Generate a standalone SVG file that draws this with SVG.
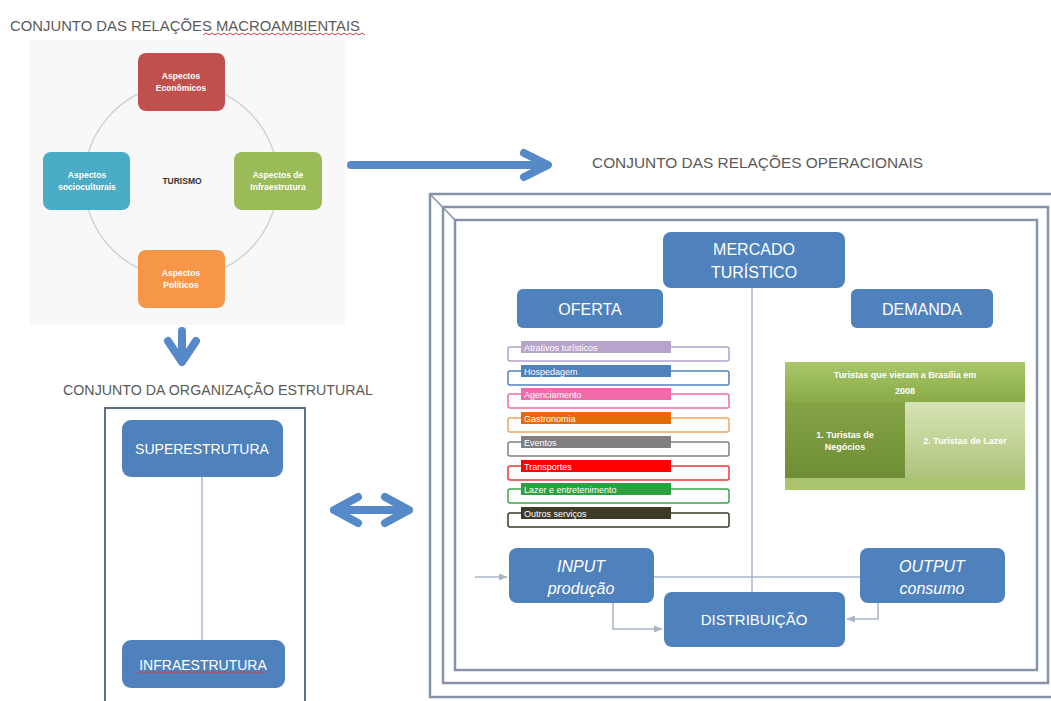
<svg xmlns="http://www.w3.org/2000/svg" width="1051" height="701" viewBox="0 0 1051 701">
<defs>
<style>
.title{font-family:"Liberation Sans",Arial,sans-serif;font-size:15px;fill:#5a5a5a}
.node{fill:#4f81bd}
.nt{font-family:"Liberation Sans",Arial,sans-serif;fill:#fff;text-anchor:middle}
.ct{font-family:"Liberation Sans",Arial,sans-serif;fill:#fff;text-anchor:middle;font-size:8.5px;font-weight:bold}
.big{fill:none;stroke:#5589c7;stroke-width:8;stroke-linecap:round;stroke-linejoin:round}
.frame{fill:none;stroke:#8792a8;stroke-width:2.5}
.conn{fill:none;stroke:#a9b6c8;stroke-width:1.5}
.bar{font-family:"Liberation Sans",Arial,sans-serif;font-size:9px;fill:#fff}
.gt{font-family:"Liberation Sans",Arial,sans-serif;fill:#fff;text-anchor:middle;font-size:9px;font-weight:bold}
.squig{fill:none;stroke:#d04040;stroke-width:1}
</style>
<marker id="ah" viewBox="0 0 10 10" refX="9" refY="5" markerWidth="6" markerHeight="6" orient="auto">
<path d="M0,1 L10,5 L0,9 z" fill="#a9b6c8"/>
</marker>
<linearGradient id="gHead" x1="0" y1="0" x2="0" y2="1">
<stop offset="0" stop-color="#a9c769"/><stop offset="1" stop-color="#8aab48"/>
</linearGradient>
<linearGradient id="gLeft" x1="0" y1="0" x2="0" y2="1">
<stop offset="0" stop-color="#86a446"/><stop offset="1" stop-color="#6f8d34"/>
</linearGradient>
<linearGradient id="gRight" x1="0" y1="0" x2="0" y2="1">
<stop offset="0" stop-color="#d6e4b4"/><stop offset="1" stop-color="#aec47c"/>
</linearGradient>
</defs>
<rect width="1051" height="701" fill="#fff"/>

<!-- Titles -->
<text class="title" x="10" y="31" textLength="350" lengthAdjust="spacingAndGlyphs">CONJUNTO DAS RELAÇÕES MACROAMBIENTAIS</text>
<path class="squig" d="M203,35 l3,-2 l3,2 l3,-2 l3,2 l3,-2 l3,2 l3,-2 l3,2 l3,-2 l3,2 l3,-2 l3,2 l3,-2 l3,2 l3,-2 l3,2 l3,-2 l3,2 l3,-2 l3,2 l3,-2 l3,2 l3,-2 l3,2 l3,-2 l3,2 l3,-2 l3,2 l3,-2 l3,2 l3,-2 l3,2 l3,-2 l3,2 l3,-2 l3,2 l3,-2 l3,2 l3,-2 l3,2 l3,-2 l3,2 l3,-2 l3,2 l3,-2 l3,2 l3,-2 l3,2 l3,-2 l3,2 l3,-2 l3,2 l3,-2 l3,2"/>
<text class="title" x="592" y="168" textLength="331" lengthAdjust="spacingAndGlyphs">CONJUNTO DAS RELAÇÕES OPERACIONAIS</text>
<text class="title" x="63" y="395" textLength="310" lengthAdjust="spacingAndGlyphs">CONJUNTO DA ORGANIZAÇÃO ESTRUTURAL</text>

<!-- Macro-environment cycle -->
<g id="macro">
<rect x="30" y="40" width="315" height="285" fill="#f8f8f8"/>
<circle cx="181" cy="181" r="97" fill="none" stroke="#d8d0d0" stroke-width="1.5"/>
<text x="182" y="184" font-family="Liberation Sans, Arial, sans-serif" font-size="8.5" font-weight="bold" fill="#333" text-anchor="middle">TURISMO</text>
</g>
<g id="n-economicos">
<rect x="138" y="53" width="87" height="58" rx="8" fill="#c0504d"/>
<text class="ct" x="181" y="79">Aspectos</text>
<text class="ct" x="181" y="91">Econômicos</text>
</g>
<g id="n-infra">
<rect x="234" y="152" width="88" height="58" rx="8" fill="#9bbb59"/>
<text class="ct" x="278" y="178">Aspectos de</text>
<text class="ct" x="278" y="190">Infraestrutura</text>
</g>
<g id="n-socio">
<rect x="43" y="152" width="87" height="58" rx="8" fill="#4bacc6"/>
<text class="ct" x="87" y="178">Aspectos</text>
<text class="ct" x="87" y="190">socioculturais</text>
</g>
<g id="n-politicos">
<rect x="138" y="250" width="87" height="58" rx="8" fill="#f79646"/>
<text class="ct" x="181" y="276">Aspectos</text>
<text class="ct" x="181" y="288">Políticos</text>
</g>

<!-- Big arrows -->
<g id="big-arrows">
<path class="big" d="M351,165 H546 M524,153 L548,165 L524,177"/>
<path class="big" d="M182,331 V361 M168,341 L182,362 L196,341"/>
<path class="big" d="M334,510 H409 M358,497 L334,510 L358,523 M385,497 L409,510 L385,523"/>
</g>

<!-- Structural organisation -->
<g id="estrutura">
<rect x="105" y="408" width="200" height="300" fill="none" stroke="#5f6f8a" stroke-width="2"/>
</g>
<g id="n-super">
<rect class="node" x="122" y="420" width="161" height="57" rx="9"/>
<text class="nt" x="202" y="454" font-size="14">SUPERESTRUTURA</text>
</g>
<g id="n-infraestrutura">
<rect class="node" x="122" y="640" width="163" height="48" rx="9"/>
<text class="nt" x="203" y="670" font-size="14">INFRAESTRUTURA</text>
<path class="squig" d="M138,673 l3,-1.5 l3,1.5 l3,-1.5 l3,1.5 l3,-1.5 l3,1.5 l3,-1.5 l3,1.5 l3,-1.5 l3,1.5 l3,-1.5 l3,1.5 l3,-1.5 l3,1.5 l3,-1.5 l3,1.5 l3,-1.5 l3,1.5 l3,-1.5 l3,1.5 l3,-1.5 l3,1.5 l3,-1.5 l3,1.5 l3,-1.5 l3,1.5 l3,-1.5 l3,1.5 l3,-1.5 l3,1.5 l3,-1.5 l3,1.5 l3,-1.5 l3,1.5 l3,-1.5 l3,1.5 l3,-1.5 l3,1.5 l3,-1.5 l3,1.5 l3,-1.5 l3,1.5"/>
</g>

<!-- Operational frame -->
<g id="frame">
<rect class="frame" x="430" y="194" width="630" height="503"/>
<rect class="frame" x="443" y="207" width="605" height="476"/>
<rect class="frame" x="455" y="220" width="582" height="450"/>
<path d="M430,194 L455,220" stroke="#8792a8" stroke-width="1.5"/>
</g>

<!-- Connectors -->
<g id="connectors">
<path class="conn" d="M202,477 V640"/>
<path class="conn" d="M752,288 V592"/>
<path class="conn" d="M654,577 H860"/>
<path class="conn" d="M475,577 H507" marker-end="url(#ah)"/>
<path class="conn" d="M613,603 V629 H662" marker-end="url(#ah)"/>
<path class="conn" d="M878,603 V619 H847" marker-end="url(#ah)"/>
</g>

<g id="n-mercado">
<rect class="node" x="663" y="232" width="182" height="56" rx="8"/>
<text class="nt" x="754" y="255" font-size="16">MERCADO</text>
<text class="nt" x="754" y="278" font-size="16">TURÍSTICO</text>
</g>
<g id="n-oferta">
<rect class="node" x="517" y="289" width="146" height="39" rx="6"/>
<text class="nt" x="590" y="315" font-size="16">OFERTA</text>
</g>
<g id="n-demanda">
<rect class="node" x="851" y="289" width="142" height="39" rx="6"/>
<text class="nt" x="922" y="315" font-size="16">DEMANDA</text>
</g>

<!-- Oferta list -->
<g id="oferta-list">
<rect x="508" y="347" width="221" height="14" rx="2" fill="#fff" stroke="#b3a2c7" stroke-width="1.5"/>
<rect x="521" y="341" width="150" height="12" fill="#b7a4cc"/>
<text class="bar" x="524" y="350.5">Atrativos turísticos</text>
<rect x="508" y="371" width="221" height="14" rx="2" fill="#fff" stroke="#4f81bd" stroke-width="1.5"/>
<rect x="521" y="365" width="150" height="12" fill="#4f81bd"/>
<text class="bar" x="524" y="374.5">Hospedagem</text>
<rect x="508" y="394" width="221" height="14" rx="2" fill="#fff" stroke="#f06ba8" stroke-width="1.5"/>
<rect x="521" y="388" width="150" height="12" fill="#f06ba8"/>
<text class="bar" x="524" y="397.5">Agenciamento</text>
<rect x="508" y="418" width="221" height="14" rx="2" fill="#fff" stroke="#f4a460" stroke-width="1.5"/>
<rect x="521" y="412" width="150" height="12" fill="#e36c0a"/>
<text class="bar" x="524" y="421.5">Gastronomia</text>
<rect x="508" y="442" width="221" height="14" rx="2" fill="#fff" stroke="#808080" stroke-width="1.5"/>
<rect x="521" y="436" width="150" height="12" fill="#808080"/>
<text class="bar" x="524" y="445.5">Eventos</text>
<rect x="508" y="466" width="221" height="14" rx="2" fill="#fff" stroke="#e83a3a" stroke-width="1.5"/>
<rect x="521" y="460" width="150" height="12" fill="#ff0000"/>
<text class="bar" x="524" y="469.5">Transportes</text>
<rect x="508" y="489" width="221" height="14" rx="2" fill="#fff" stroke="#3aa84a" stroke-width="1.5"/>
<rect x="521" y="483" width="150" height="12" fill="#2e9e3e"/>
<text class="bar" x="524" y="492.5">Lazer e entretenimento</text>
<rect x="508" y="513" width="221" height="14" rx="2" fill="#fff" stroke="#3d3a27" stroke-width="1.5"/>
<rect x="521" y="507" width="150" height="12" fill="#3d3a27"/>
<text class="bar" x="524" y="516.5">Outros serviços</text>
</g>

<!-- Demanda block -->
<g id="turistas">
<rect x="785" y="362" width="240" height="128" fill="#b8cf86"/>
<rect x="785" y="362" width="240" height="40" fill="url(#gHead)"/>
<rect x="785" y="402" width="120" height="76" fill="url(#gLeft)"/>
<rect x="905" y="402" width="120" height="76" fill="url(#gRight)"/>
<rect x="785" y="478" width="240" height="12" fill="#a9c46c"/>
<text class="gt" x="905" y="378" font-weight="normal" font-size="10">Turistas que vieram a Brasília em</text>
<text class="gt" x="905" y="394" font-weight="normal" font-size="10">2008</text>
<text class="gt" x="845" y="438">1. Turistas de</text>
<text class="gt" x="845" y="450">Negócios</text>
<text class="gt" x="965" y="444">2. Turistas de Lazer</text>
</g>

<g id="n-input">
<rect class="node" x="509" y="548" width="145" height="55" rx="8"/>
<text class="nt" x="581" y="572" font-size="16" font-style="italic">INPUT</text>
<text class="nt" x="581" y="594" font-size="16" font-style="italic">produção</text>
</g>
<g id="n-output">
<rect class="node" x="860" y="548" width="145" height="55" rx="8"/>
<text class="nt" x="932" y="572" font-size="16" font-style="italic">OUTPUT</text>
<text class="nt" x="932" y="594" font-size="16" font-style="italic">consumo</text>
</g>
<g id="n-distribuicao">
<rect class="node" x="664" y="592" width="181" height="55" rx="8"/>
<text class="nt" x="754" y="625" font-size="15">DISTRIBUIÇÃO</text>
</g>
</svg>
